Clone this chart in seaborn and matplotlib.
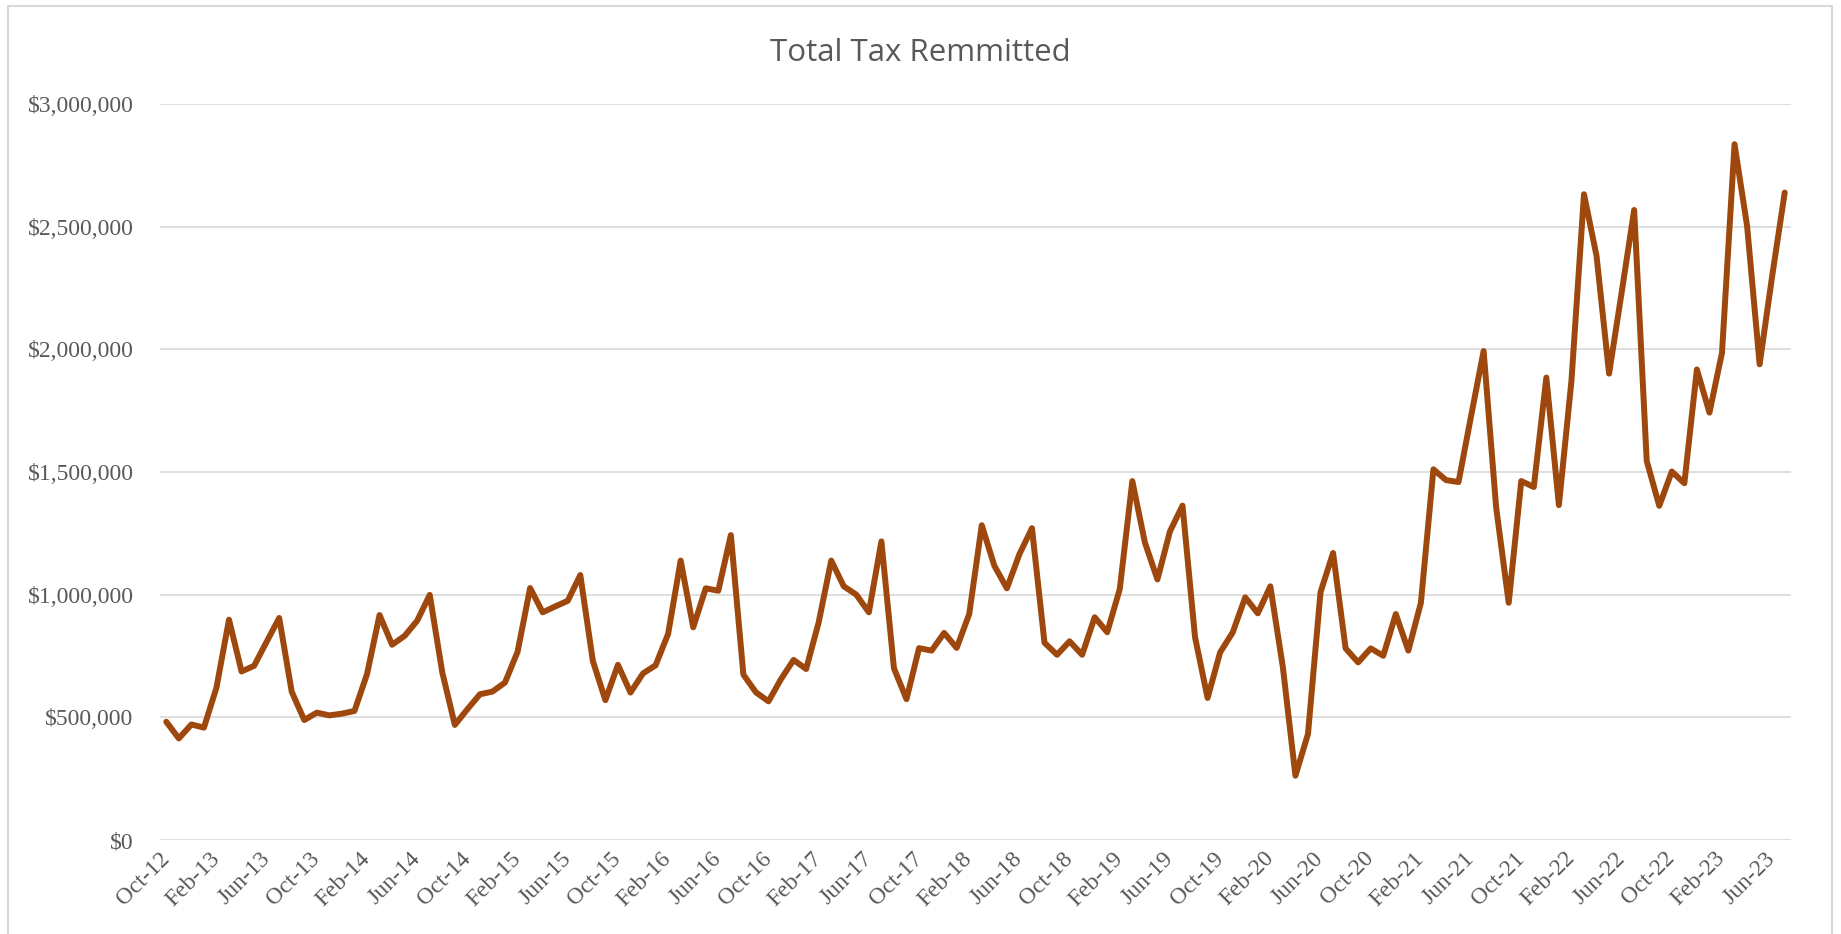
import numpy as np
import pandas as pd
import seaborn as sns
import matplotlib.pyplot as plt
from matplotlib.patches import Rectangle
from matplotlib.ticker import FuncFormatter

# monthly total tax remitted, Oct-12 .. Jul-23
tax = [482, 414, 471, 458, 621, 898, 687, 710, 808, 905,
       604, 489, 519, 508, 515, 526, 676, 917, 796, 832,
       894, 999, 683, 469, 533, 594, 605, 642, 767, 1027,
       928, 952, 975, 1080, 730, 570, 714, 601, 679, 712,
       840, 1139, 867, 1026, 1016, 1243, 674, 602, 565, 656,
       734, 697, 887, 1139, 1034, 1000, 928, 1217, 700, 574,
       782, 772, 844, 783, 921, 1283, 1118, 1026, 1165, 1271,
       804, 755, 810, 755, 908, 847, 1023, 1463, 1213, 1062,
       1258, 1363, 826, 579, 765, 846, 989, 924, 1034, 704,
       262, 432, 1010, 1170, 781, 724, 781, 751, 921, 772,
       967, 1511, 1467, 1459, 1728, 1993, 1355, 967, 1463, 1439,
       1885, 1365, 1871, 2632, 2381, 1901, 2231, 2568, 1545, 1362,
       1502, 1454, 1918, 1742, 1986, 2836, 2503, 1939, 2299, 2639]
tax = [v * 1000 for v in tax]

months = pd.date_range("2012-10-01", periods=len(tax), freq="MS")
month_labels = [m.strftime("%b-%y") for m in months]
y_ticks = [0, 500000, 1000000, 1500000, 2000000, 2500000, 3000000]

df = pd.DataFrame({"pos": np.arange(len(tax)), "month": month_labels, "tax": tax})

sns.set_theme(style="white")
plt.rcParams["font.family"] = ["Liberation Serif", "DejaVu Serif"]

W, H = 1841, 934
fig = plt.figure(figsize=(W / 100, H / 100), dpi=100)
ax = fig.add_axes([160 / W, 1 - 840 / H, (1791 - 160) / W, (840 - 104) / H])

sns.lineplot(data=df, x="pos", y="tax", ax=ax, color="#9E480E", linewidth=4.3)
for ln in ax.lines:
    ln.set_solid_joinstyle("round")
    ln.set_solid_capstyle("round")

ax.set_xlim(-0.5, len(tax) - 0.5)
ax.set_ylim(0, 3000000)
ax.set_yticks(y_ticks)
ax.yaxis.set_major_formatter(FuncFormatter(lambda v, p: "${:,.0f}".format(v)))
ax.grid(axis="y", color="#D9D9D9", linewidth=1.2)
ax.set_axisbelow(True)

tick_pos = df["pos"][::4]
ax.set_xticks(tick_pos)
ax.set_xticklabels(df["month"][::4], rotation=45, ha="right", va="center",
                   rotation_mode="anchor")

ax.tick_params(axis="y", labelsize=17, labelcolor="#595959", length=0, pad=19)
ax.tick_params(axis="x", labelsize=17, labelcolor="#595959", length=0, pad=11)
ax.set_xlabel("")
ax.set_ylabel("")
for s in ax.spines.values():
    s.set_visible(False)

fig.text(0.5, 1 - 61 / H, "Total Tax Remmitted", ha="center", va="baseline",
         fontsize=22.5, color="#595959", family=["Open Sans", "DejaVu Sans"])

# chart area border
fig.patches.append(Rectangle((8 / W, -0.05), (1832 - 8) / W, 1.05 - 6 / H,
                             transform=fig.transFigure, fill=False,
                             edgecolor="#D9D9D9", linewidth=1.5))

fig.savefig("out.png", dpi=100, facecolor="white")
